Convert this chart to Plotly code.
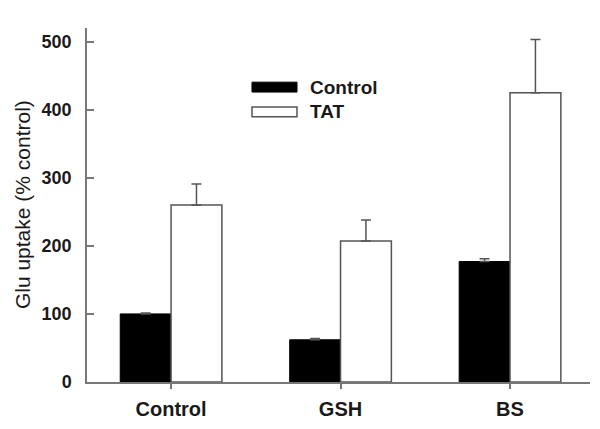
import plotly.graph_objects as go

categories = ["Control", "GSH", "BS"]
control_vals = [100, 62, 177]
control_err = [1.5, 2, 4]
tat_vals = [260, 207, 425]
tat_err = [31, 31, 78]
y_ticks = [0, 100, 200, 300, 400, 500]

FONT = "Arial, Liberation Sans, sans-serif"
TXT = "#1a1a1a"
GRAY = "#777777"

fig = go.Figure()
fig.add_trace(go.Bar(
    x=categories, y=control_vals, name="Control",
    marker=dict(color="black", line=dict(color="black", width=1)),
    error_y=dict(type="data", array=control_err, arrayminus=[0, 0, 0], symmetric=False,
                 color="#555555", thickness=1.5, width=5),
    showlegend=False,
))
fig.add_trace(go.Bar(
    x=categories, y=tat_vals, name="TAT",
    marker=dict(color="white", line=dict(color="#555555", width=1.5)),
    error_y=dict(type="data", array=tat_err, arrayminus=[0, 0, 0], symmetric=False,
                 color="#555555", thickness=1.5, width=5),
    showlegend=False,
))

# custom legend (wide swatches like the reference)
fig.add_shape(type="rect", xref="paper", yref="paper", x0=0.328, x1=0.4175, y0=0.819, y1=0.847,
              fillcolor="black", line=dict(color="black", width=1))
fig.add_shape(type="rect", xref="paper", yref="paper", x0=0.328, x1=0.4175, y0=0.749, y1=0.777,
              fillcolor="white", line=dict(color="#555555", width=1.5))
fig.add_annotation(xref="paper", yref="paper", x=0.439, y=0.833, text="<b>Control</b>", showarrow=False,
                   xanchor="left", yanchor="middle", font=dict(family=FONT, size=19, color=TXT))
fig.add_annotation(xref="paper", yref="paper", x=0.439, y=0.763, text="<b>TAT</b>", showarrow=False,
                   xanchor="left", yanchor="middle", font=dict(family=FONT, size=19, color=TXT))
# y-axis title
fig.add_annotation(xref="paper", yref="paper", x=-0.129, y=0.5, text="Glu uptake (% control)",
                   showarrow=False, textangle=-90, xanchor="center", yanchor="middle",
                   font=dict(family=FONT, size=21, color=TXT))

fig.update_layout(
    width=600, height=429,
    margin=dict(l=87, r=10, t=28, b=47),
    paper_bgcolor="white", plot_bgcolor="white",
    barmode="group", bargap=0.4, bargroupgap=0,
    font=dict(family=FONT, color=TXT),
)
fig.update_xaxes(
    type="category", range=[-0.496, 2.472], automargin=False,
    showline=True, linecolor=GRAY, linewidth=1.5,
    ticks="outside", ticklen=5, tickcolor=GRAY, tickwidth=1.5,
    tickfont=dict(family=FONT, size=20, color=TXT),
    ticklabelstandoff=3,
    tickvals=categories, ticktext=["<b>" + c + "</b>" for c in categories],
    showgrid=False, zeroline=False,
)
fig.update_yaxes(
    range=[0, 520], automargin=False,
    showline=True, linecolor=GRAY, linewidth=1.5,
    ticks="inside", ticklen=7, tickcolor=GRAY, tickwidth=1.5,
    tickvals=y_ticks, ticktext=["<b>%d</b>" % v for v in y_ticks],
    tickfont=dict(family=FONT, size=18, color=TXT),
    ticklabelstandoff=10,
    showgrid=False, zeroline=False,
)

fig.write_html("out.html", config={"displayModeBar": False},
               post_script="document.body.style.margin='0';document.body.style.padding='0';")
